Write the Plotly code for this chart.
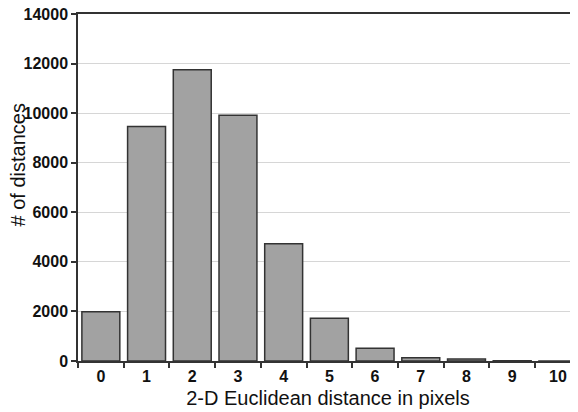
import plotly.graph_objects as go

categories = ["0", "1", "2", "3", "4", "5", "6", "7", "8", "9", "10"]
counts = [1990, 9460, 11750, 9910, 4730, 1720, 510, 135, 85, 8, 4]
y_ticks = [0, 2000, 4000, 6000, 8000, 10000, 12000, 14000]

fig = go.Figure(go.Bar(
    x=categories,
    y=counts,
    marker=dict(color="#a2a2a2", line=dict(color="#333333", width=1.5)),
    width=0.83,
))

# page body adds an 8px margin, so the figure is sized to fit the window
fig.update_layout(
    width=570, height=404,
    margin=dict(l=70, r=0, t=6, b=51, autoexpand=False),
    paper_bgcolor="white", plot_bgcolor="white",
    showlegend=False,
    font=dict(family="Liberation Sans, Arial, sans-serif", color="#111111"),
    annotations=[dict(
        text="# of distances", textangle=-90,
        xref="paper", yref="paper", x=-0.121, y=0.565,
        xanchor="center", yanchor="middle", showarrow=False,
        font=dict(size=20, color="#111111"),
    )],
)
fig.update_xaxes(
    type="category",
    range=[-0.5, 10.44],
    tickson="boundaries",
    tickmode="array",
    tickvals=categories,
    ticktext=[f"<b>{c}</b>" for c in categories],
    tickfont=dict(size=16),
    showgrid=False,
    showline=True, linecolor="#333333", linewidth=1.5,
    mirror=True,
    ticks="outside", ticklen=5, tickcolor="#333333", tickwidth=1.5,
    title=dict(text="2-D Euclidean distance in pixels", font=dict(size=20), standoff=7),
    automargin=False,
    ticklabeloverflow="allow",
    zeroline=False,
)
fig.update_yaxes(
    range=[0, 14000],
    tickmode="array",
    tickvals=y_ticks,
    ticktext=[f"<b>{v}</b>" for v in y_ticks],
    tickfont=dict(size=16),
    showgrid=True, gridcolor="#d6d6d6", gridwidth=1,
    showline=True, linecolor="#333333", linewidth=1.5,
    ticks="outside", ticklen=5, tickcolor="#333333", tickwidth=1.5,
    automargin=False,
    ticklabeloverflow="allow",
    zeroline=False,
)

fig.write_html("out.html")
